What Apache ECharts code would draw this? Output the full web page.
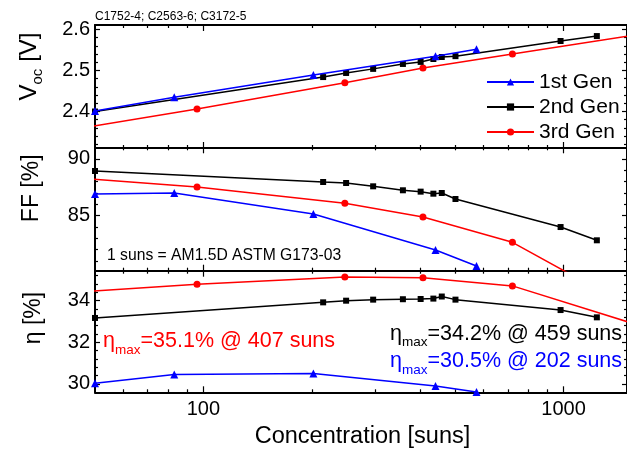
<!DOCTYPE html>
<html><head><meta charset="utf-8">
<script src="https://cdn.jsdelivr.net/npm/echarts@6/dist/echarts.min.js"></script>
<style>html,body{margin:0;padding:0;background:#fff}#c{width:627px;height:450px}</style>
</head><body><div id="c"></div><script>
// ---- data ----
const seriesNames = ['1st Gen', '2nd Gen', '3rd Gen'];
const xGen1 = [50, 83, 202, 441, 573];
const vocGen1 = [2.401, 2.435, 2.489, 2.535, 2.552];
const ffGen1 = [86.91, 87.0, 85.15, 81.98, 80.56];
const etaGen1 = [30.04, 30.45, 30.5, 29.9, 29.61];

const xGen2 = [50, 215, 249, 296, 358, 401, 435, 459, 501, 981, 1237];
const vocGen2 = [2.400, 2.484, 2.494, 2.504, 2.516, 2.521, 2.528, 2.533, 2.535, 2.572, 2.584];
const ffGen2 = [88.94, 87.97, 87.88, 87.59, 87.24, 87.12, 86.94, 87.0, 86.47, 84.0, 82.83];
const etaGen2 = [33.17, 33.92, 34.0, 34.05, 34.07, 34.08, 34.1, 34.2, 34.05, 33.55, 33.2];

const xGen3 = [30, 96, 247, 407, 721, 2000];
const vocGen3 = [2.333, 2.406, 2.470, 2.506, 2.540, 2.601];
const ffGen3 = [88.74, 87.53, 86.09, 84.89, 82.65, 74.9];
const etaGen3 = [34.22, 34.79, 35.14, 35.1, 34.71, 32.32];

const xMajorTicks = [100, 1000];
const xMinorTicks = [60, 70, 80, 90, 200, 300, 400, 500, 600, 700, 800, 900];
const vocMajorTicks = [2.4, 2.5, 2.6];
const vocMinorTicks = [2.32, 2.34, 2.36, 2.38, 2.42, 2.44, 2.46, 2.48, 2.52, 2.54, 2.56, 2.58];
const ffMajorTicks = [85, 90];
const ffMinorTicks = [81, 82, 83, 84, 86, 87, 88, 89];
const etaMajorTicks = [30, 32, 34];
const etaMinorTicks = [30.4, 30.8, 31.2, 31.6, 32.4, 32.8, 33.2, 33.6, 34.4, 34.8, 35.2];

// ---- layout ----
const FONT = '"Liberation Sans", Arial, sans-serif';
const panels = [
  {top: 25, height: 123, min: 2.311, max: 2.611, major: vocMajorTicks, minor: vocMinorTicks},
  {top: 147.3, height: 123.4, min: 80.15, max: 91.03, major: ffMajorTicks, minor: ffMinorTicks},
  {top: 270.7, height: 121.6, min: 29.6, max: 35.44, major: etaMajorTicks, minor: etaMinorTicks}
];
const grids = [], xAxes = [], yAxes = [];
panels.forEach((p, gi) => {
  grids.push({left: 95, width: 534, top: p.top, height: p.height, containLabel: false});
  ['bottom', 'top'].forEach(pos => {
    [true, false].forEach(isMajor => {
      xAxes.push({
        gridIndex: gi, type: 'log', logBase: 10, min: 50, max: 1500, position: pos,
        axisLine: {show: isMajor, onZero: false, lineStyle: {color: '#000', width: 2}},
        axisTick: {show: true, inside: true, length: isMajor ? 6 : 3,
          customValues: isMajor ? xMajorTicks : xMinorTicks,
          lineStyle: {color: '#000', width: 1.2}},
        axisLabel: {show: isMajor && gi === 2 && pos === 'bottom', customValues: xMajorTicks,
          formatter: v => String(Math.round(v)),
          color: '#000', fontSize: 20, fontFamily: FONT, margin: 7},
        splitLine: {show: false}, minorTick: {show: false}
      });
    });
  });
  ['left', 'right'].forEach(pos => {
    [true, false].forEach(isMajor => {
      yAxes.push({
        gridIndex: gi, type: 'value', min: p.min, max: p.max, position: pos,
        axisLine: {show: isMajor, onZero: false, lineStyle: {color: '#000', width: 2}},
        axisTick: {show: true, inside: true, length: isMajor ? 5 : 3,
          customValues: isMajor ? p.major : p.minor,
          lineStyle: {color: '#000', width: 1.2}},
        axisLabel: {show: isMajor && pos === 'left', customValues: p.major,
          color: '#000', fontSize: 20, fontFamily: FONT, margin: 5},
        splitLine: {show: false}
      });
    });
  });
});

const styles = [
  {color: '#0000ff', symbol: 'triangle', size: 8},
  {color: '#000000', symbol: 'rect', size: 6},
  {color: '#ff0000', symbol: 'circle', size: 7}
];
const xs = [xGen1, xGen2, xGen3];
const ys = [[vocGen1, vocGen2, vocGen3], [ffGen1, ffGen2, ffGen3], [etaGen1, etaGen2, etaGen3]];
const series = [];
for (let gi = 0; gi < 3; gi++) {
  for (let s = 0; s < 3; s++) {
    const st = styles[s];
    series.push({
      type: 'line', name: seriesNames[s], xAxisIndex: gi * 4, yAxisIndex: gi * 4,
      data: xs[s].map((v, i) => [v, ys[gi][s][i]]),
      symbol: st.symbol, symbolSize: st.size, showAllSymbol: true, clip: true,
      lineStyle: {color: st.color, width: 1.5}, itemStyle: {color: st.color},
      emphasis: {disabled: true}, z: 3 - s
    });
  }
}

function txt(x, y, text, size, color, extra) {
  return {type: 'text', x: x, y: y, silent: true,
    style: Object.assign({text: text, fill: color, font: size + 'px ' + FONT,
      align: 'left', verticalAlign: 'middle', textAlign: 'left', textVerticalAlign: 'middle'}, extra || {})};
}
function etaMax(x, y, rest, color) {
  return [
    txt(x, y, 'η', 21.5, color),
    txt(x + 12, y + 8.5, 'max', 13.5, color),
    txt(x + 37.5, y, rest, 21.5, color)
  ];
}
const graphics = [
  txt(95, 16.5, 'C1752-4; C2563-6; C3172-5', 12, '#000'),
  txt(107, 256, '1 suns = AM1.5D ASTM G173-03', 15.7, '#000'),
  {type: 'text', x: 362.5, y: 437, silent: true,
    style: {text: 'Concentration [suns]', fill: '#000', font: '23.5px ' + FONT,
      align: 'center', verticalAlign: 'middle', textAlign: 'center', textVerticalAlign: 'middle'}},
  {type: 'group', x: 29.5, y: 66.5, rotation: Math.PI / 2, silent: true, children: [
    {type: 'text', x: -34, y: 0, style: {text: 'V', fill: '#000', font: '24px ' + FONT, align: 'left', verticalAlign: 'middle', textAlign: 'left', textVerticalAlign: 'middle'}},
    {type: 'text', x: -18, y: 8, style: {text: 'oc', fill: '#000', font: '15px ' + FONT, align: 'left', verticalAlign: 'middle', textAlign: 'left', textVerticalAlign: 'middle'}},
    {type: 'text', x: -2, y: 0, style: {text: ' [V]', fill: '#000', font: '24px ' + FONT, align: 'left', verticalAlign: 'middle', textAlign: 'left', textVerticalAlign: 'middle'}}
  ]},
  {type: 'text', x: 31.3, y: 188.3, rotation: Math.PI / 2, silent: true,
    style: {text: 'FF [%]', fill: '#000', font: '23px ' + FONT, align: 'center', verticalAlign: 'middle', textAlign: 'center', textVerticalAlign: 'middle'}},
  {type: 'text', x: 33.5, y: 318, rotation: Math.PI / 2, silent: true,
    style: {text: 'η [%]', fill: '#000', font: '23px ' + FONT, align: 'center', verticalAlign: 'middle', textAlign: 'center', textVerticalAlign: 'middle'}}
].concat(
  etaMax(103, 341.5, '=35.1% @ 407 suns', '#ff0000'),
  etaMax(390, 334, '=34.2% @ 459 suns', '#000000'),
  etaMax(390, 361.5, '=30.5% @ 202 suns', '#0000ff')
);

const chart = echarts.init(document.getElementById('c'), null, {renderer: 'canvas'});
chart.setOption({
  animation: false,
  backgroundColor: '#fff',
  textStyle: {fontFamily: FONT},
  grid: grids, xAxis: xAxes, yAxis: yAxes, series: series,
  legend: {
    data: seriesNames, orient: 'vertical', left: 486, top: 69.5, padding: 0,
    itemWidth: 47, itemHeight: 9, itemGap: 0,
    textStyle: {color: '#000', fontSize: 21, fontFamily: FONT, lineHeight: 25},
    selectedMode: false
  },
  graphic: graphics
});
</script></body></html>
